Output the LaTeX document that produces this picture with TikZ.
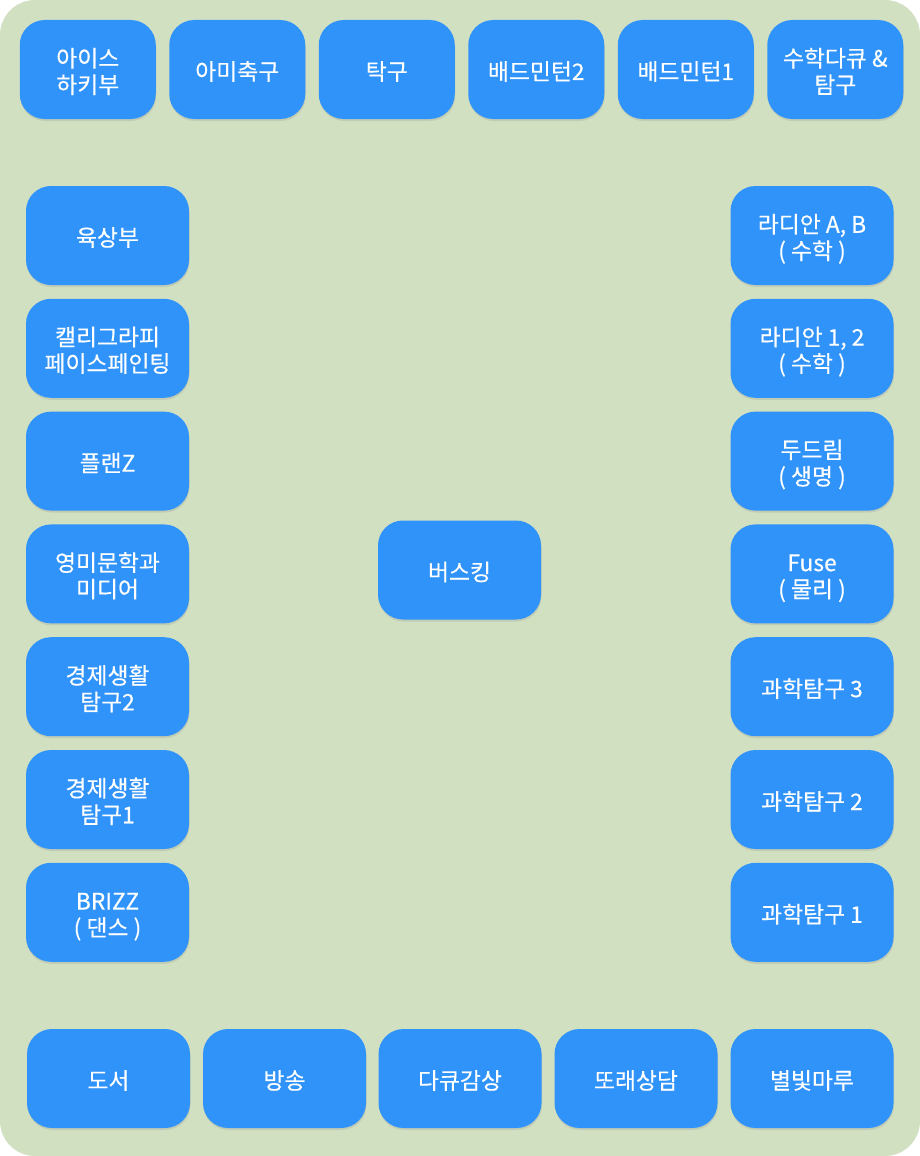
\documentclass[tikz,border=0pt]{standalone}
\usepackage{fontspec}
\setmainfont[FakeBold=0.35]{Noto Sans CJK KR}
\usetikzlibrary{shadows}
\definecolor{clubblue}{HTML}{2F93FA}
\definecolor{fieldgreen}{HTML}{D2E0C2}

\begin{document}
\begin{tikzpicture}[x=1pt, y=-1pt,
        club/.style={fill=clubblue, text=white, rounded corners=25pt, align=center,
            minimum width=163pt, minimum height=99pt, inner sep=0pt,
            font=\fontsize{22.8}{26.5}\selectfont,
            execute at begin node={\rule{0pt}{27pt}},
            execute at end node={\rule[-6pt]{0pt}{0pt}},
            drop shadow={opacity=0.2, shadow xshift=0.5pt, shadow yshift=-2pt}},
        twoline/.style={execute at begin node={\rule{0pt}{53.5pt}}},
        topclub/.style={club, minimum width=136pt}]
            \useasboundingbox (0, 0) rectangle (920, 1156);
            \fill [fieldgreen, rounded corners=35pt] (0, 0) rectangle (920, 1156);
            % top row
            \node [topclub, twoline] (T1) at (87.75, 69.5) {아이스\\하키부};
            \node [topclub] (T2) at (237.25, 69.5) {아미축구};
            \node [topclub] (T3) at (386.75, 69.5) {탁구};
            \node [topclub] (T4) at (536.25, 69.5) {배드민턴2};
            \node [topclub] (T5) at (685.75, 69.5) {배드민턴1};
            \node [topclub, twoline] (T6) at (835.25, 69.5) {수학다큐 \&\\탐구};
            % left column
            \node [club] (L1) at (107.5, 235.5) {육상부};
            \node [club, twoline] (L2) at (107.5, 348.3) {캘리그라피\\페이스페인팅};
            \node [club] (L3) at (107.5, 461.1) {플랜Z};
            \node [club, twoline] (L4) at (107.5, 573.9) {영미문학과\\미디어};
            \node [club, twoline] (L5) at (107.5, 686.7) {경제생활\\탐구2};
            \node [club, twoline] (L6) at (107.5, 799.5) {경제생활\\탐구1};
            \node [club, twoline] (L7) at (107.5, 912.3) {BRIZZ\\( 댄스 )};
            % right column
            \node [club, twoline] (R1) at (812, 235.5) {라디안 A, B\\( 수학 )};
            \node [club, twoline] (R2) at (812, 348.3) {라디안 1, 2\\( 수학 )};
            \node [club, twoline] (R3) at (812, 461.1) {두드림\\( 생명 )};
            \node [club, twoline] (R4) at (812, 573.9) {Fuse\\( 물리 )};
            \node [club] (R5) at (812, 686.7) {과학탐구 3};
            \node [club] (R6) at (812, 799.5) {과학탐구 2};
            \node [club] (R7) at (812, 912.3) {과학탐구 1};
            % centre
            \node [club] (C) at (459.5, 570) {버스킹};
            % bottom row
            \node [club] (B1) at (108.5, 1078.5) {도서};
            \node [club] (B2) at (284.5, 1078.5) {방송};
            \node [club] (B3) at (460, 1078.5) {다큐감상};
            \node [club] (B4) at (636, 1078.5) {또래상담};
            \node [club] (B5) at (812, 1078.5) {별빛마루};
        \end{tikzpicture}
\end{document}
